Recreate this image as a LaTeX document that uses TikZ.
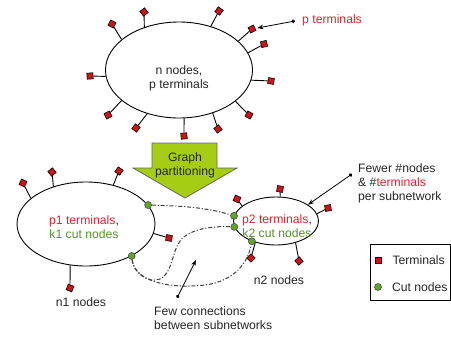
\documentclass[tikz,border=0pt]{standalone}
\usepackage{fontspec}
\setmainfont{Liberation Sans}
\usetikzlibrary{shapes.geometric, arrows.meta, positioning}

\definecolor{termred}{RGB}{205,20,25}
\definecolor{cutgreen}{RGB}{95,165,40}
\definecolor{txtred}{RGB}{225,35,45}
\definecolor{txtgreen}{RGB}{85,145,40}
\definecolor{arrowgreen}{RGB}{165,205,20}

\begin{document}
\begin{tikzpicture}[x=1pt, y=-1pt, font=\fontsize{12.2}{14}\selectfont, text=black!85,
  terminal/.style={draw, fill=termred, minimum size=6pt, inner sep=0pt, line width=0.6pt},
  cutnode/.style={circle, draw=black!70, fill=cutgreen, minimum size=7pt, inner sep=0pt, line width=0.6pt},
  net/.style={ellipse, draw, line width=0.9pt, inner sep=0pt},
  stem/.style={line width=0.9pt},
  link/.style={line width=1pt, black!75, dash pattern=on 4pt off 1.8pt on 1.2pt off 1.8pt},
  pointer/.style={line width=0.8pt, {Circle[length=3.5pt]}-{Stealth[length=6pt,width=4.5pt]}},
  lbl/.style={align=left, inner sep=0pt}]

\useasboundingbox (0,0) rectangle (451,341);

\node[net, minimum width=147pt, minimum height=96pt] (whole) at (179,70) {};
\node[net, minimum width=138pt, minimum height=84pt] (part1) at (86,224) {};
\node[net, minimum width=85pt, minimum height=48pt] (part2) at (276,221) {};

\foreach \px/\py/\a [count=\i] in {144/12/129, 219/11/54, 112/24/152, 252/29/26, 264/44/14, 90/76/185,
    271/81/352, 108/115/208, 249/115/331, 136/128/234, 184/136/276, 218/129/308}{
  \node[terminal, rotate=\a] (ta\i) at (\px,\py) {};
  \draw[stem] (ta\i) -- (whole.\a);
}
\foreach \px/\py/\a [count=\i] in {23/183/155, 52/172/131, 119/171/55, 169/238/352, 70/288/249}{
  \node[terminal, rotate=\a] (tb\i) at (\px,\py) {};
  \draw[stem] (tb\i) -- (part1.\a);
}
\foreach \px/\py/\a [count=\i] in {237/199/156, 280/189/80, 328/208/10, 251/258/226, 299/261/312}{
  \node[terminal, rotate=\a] (tc\i) at (\px,\py) {};
  \draw[stem] (tc\i) -- (part2.\a);
}

\node[cutnode] (c1) at (part1.17) {};
\node[cutnode] (c2) at (part1.325) {};
\node[cutnode] (r1) at (part2.173) {};
\node[cutnode] (r2) at (part2.188) {};
\node[cutnode] (r3) at (part2.220) {};

\draw[link] (c1) .. controls (180,206) and (205,207) .. (r1);
\draw[link] (c2) .. controls (133,272) and (148,284) .. (160,279) .. controls (172,274) and (172,252) .. (180,241) .. controls (190,228) and (215,226) .. (r2);
\draw[link] (c2) .. controls (135,282) and (170,289) .. (205,285) .. controls (235,281) and (248,262) .. (r3);

\node[align=center] (wholetxt) at (179,78) {n nodes,\\p terminals};
\node[align=center] (p1txt) at (84,227) {\textcolor{txtred}{p1 terminals},\\\textcolor{txtgreen}{k1 cut nodes}};
\node[align=center] (p2txt) at (277,226) {\textcolor{txtred}{p2 terminals},\\\textcolor{txtgreen}{k2 cut nodes}};
\node (n1) at (81,302) {n1 nodes};
\node (n2) at (279,280) {n2 nodes};

\draw[fill=arrowgreen, draw=black!60, line width=0.8pt] (152,143) -- (217,143) -- (217,168) -- (237,168)
  -- (185,198) -- (133,168) -- (152,168) -- cycle;
\node[align=center] (gp) at (185,165) {Graph\\partitioning};

\node[lbl, text=txtred, anchor=west] (plbl) at (302,20) {p terminals};
\coordinate (pdot) at (295,21);
\draw[pointer, shorten >=2pt] (pdot) -- (ta4);

\node[lbl, anchor=west] (fewer) at (358,183) {Fewer \#nodes\\\& \#\textcolor{txtred}{terminals}\\per subnetwork};
\coordinate (fdot) at (352,174);
\draw[pointer] (fdot) -- (part2.27);

\node[lbl, anchor=west] (fewconn) at (154,318) {Few connections\\between subnetworks};
\coordinate (cdot) at (177,298);
\coordinate (cend) at (196,260);
\draw[pointer] (cdot) -- (cend);

\node[draw, line width=0.8pt, minimum width=80pt, minimum height=56pt] (legend) at (410,272) {};
\node[terminal] (lterm) at (378,260) {};
\node[lbl, right=11pt of lterm] (ltermtxt) {Terminals};
\node[cutnode] (lcut) at (378,287) {};
\node[lbl, right=10pt of lcut] (lcuttxt) {Cut nodes};
\end{tikzpicture}
\end{document}
